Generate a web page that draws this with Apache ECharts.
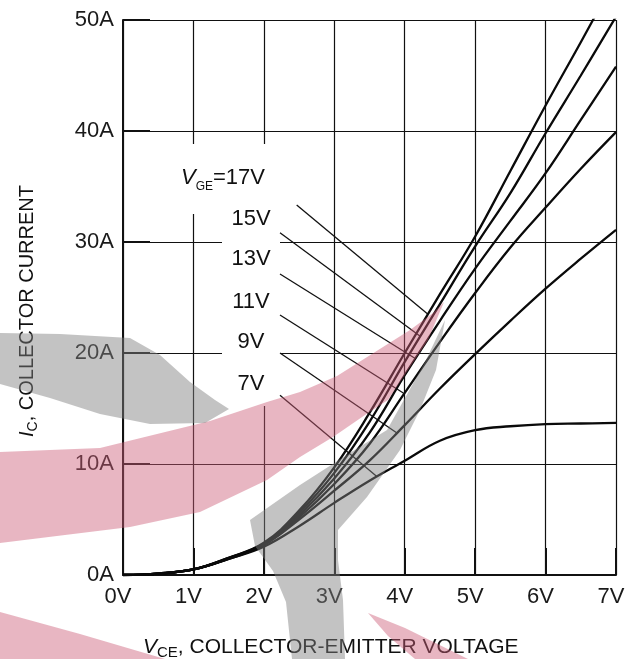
<!DOCTYPE html>
<html>
<head>
<meta charset="utf-8">
<script src="https://cdn.jsdelivr.net/npm/echarts@6/dist/echarts.min.js"></script>
<style>
  html, body { margin: 0; padding: 0; background: #ffffff; }
  #chart { width: 632px; height: 659px; }
</style>
</head>
<body>
<div id="chart"></div>
<script>
// Collector-emitter voltage sample points (V)
const vceSteps = [0, 0.5, 1, 1.5, 2, 2.5, 3, 3.5, 4, 4.5, 5, 5.5, 6, 6.5, 7];

// Collector current (A) for each gate-emitter voltage
const ic17V = [0, 0.13, 0.5, 1.55, 2.9, 5.8, 9.7, 14.6, 20.0, 25.3, 30.5, 36.4, 42.3, 48.0, 53.8];
const ic15V = [0, 0.13, 0.5, 1.55, 2.85, 5.6, 9.2, 13.8, 19.2, 24.4, 29.6, 34.4, 39.8, 45.0, 50.3];
const ic13V = [0, 0.13, 0.5, 1.5, 2.8, 5.4, 8.7, 12.8, 18.0, 22.9, 27.6, 31.9, 36.2, 41.0, 45.8];
const ic11V = [0, 0.13, 0.5, 1.5, 2.75, 5.2, 8.2, 11.8, 16.4, 21.0, 25.4, 29.5, 33.1, 36.6, 39.9];
const ic9V  = [0, 0.13, 0.5, 1.45, 2.7, 5.0, 7.6, 10.3, 13.5, 16.8, 19.9, 22.9, 25.8, 28.5, 31.1];
const ic7V  = [0, 0.13, 0.5, 1.45, 2.55, 4.4, 6.5, 8.5, 10.3, 12.1, 13.05, 13.4, 13.6, 13.65, 13.7];

// Curve labels and where their leader lines start/end (V, A)
const gateLabels = ['17V', '15V', '13V', '11V', '9V', '7V'];
const leaderStart = [[2.466, 33.33], [2.229, 30.84], [2.229, 27.12], [2.229, 23.42], [2.229, 20.0], [2.229, 16.2]];
const leaderEnd   = [[4.33, 23.5], [4.22, 21.5], [4.15, 19.5], [3.98, 16.4], [3.89, 12.8], [3.6, 8.9]];

// Axis ticks
const vceTicks = [0, 1, 2, 3, 4, 5, 6, 7];
const icTicks = [0, 10, 20, 30, 40, 50];

const FONT = '"Liberation Sans", Arial, Helvetica, sans-serif';
const INK = '#111111';

const curves = [ic17V, ic15V, ic13V, ic11V, ic9V, ic7V];

const series = [];
leaderStart.forEach((p, i) => {
  series.push({
    type: 'line',
    name: 'leader ' + gateLabels[i],
    data: [p, leaderEnd[i]],
    symbol: 'none',
    z: 3,
    lineStyle: { color: INK, width: 1.3 },
    silent: true
  });
});
curves.forEach((arr, i) => {
  series.push({
    type: 'line',
    name: 'VGE=' + gateLabels[i],
    data: vceSteps.map((v, k) => [v, arr[k]]),
    symbol: 'none',
    smooth: 0.4,
    clip: true,
    z: 4,
    lineStyle: { color: '#0a0a0a', width: 2.3 },
    silent: true
  });
});

// caption placement (pixels)
const labelX = 251;
const labelY = [219, 259, 301.7, 341.7, 384];
const graphics = [
  // white patches behind the captions (interrupt the grid)
  { type: 'rect', z: 1, shape: { x: 175, y: 144, width: 122, height: 70 }, style: { fill: '#ffffff' } },
  { type: 'rect', z: 1, shape: { x: 222, y: 212, width: 58, height: 194 }, style: { fill: '#ffffff' } },
  {
    type: 'text', z: 5, x: 181, y: 178,
    style: {
      text: '{i|V}{s|GE}{n|=17V}',
      verticalAlign: 'middle',
      rich: {
        i: { fontFamily: FONT, fontSize: 22, fontStyle: 'italic', fill: INK, lineHeight: 30 },
        s: { fontFamily: FONT, fontSize: 12, fill: INK, lineHeight: 12, verticalAlign: 'bottom' },
        n: { fontFamily: FONT, fontSize: 22, fill: INK, lineHeight: 30 }
      }
    }
  }
];
gateLabels.slice(1).forEach((t, i) => {
  graphics.push({
    type: 'text', z: 5, x: labelX, y: labelY[i],
    style: { text: t, font: '22px ' + FONT, fill: INK, align: 'center', verticalAlign: 'middle' }
  });
});
// axis titles
graphics.push({
  type: 'text', z: 5, x: 143, y: 647,
  style: {
    text: '{i|V}{s|CE}{n|, COLLECTOR-EMITTER VOLTAGE}',
    verticalAlign: 'middle',
    rich: {
      i: { fontFamily: FONT, fontSize: 21, fontStyle: 'italic', fill: INK, lineHeight: 26 },
      s: { fontFamily: FONT, fontSize: 15, fill: INK, lineHeight: 15, verticalAlign: 'bottom' },
      n: { fontFamily: FONT, fontSize: 21, fill: INK, lineHeight: 26 }
    }
  }
});
graphics.push({
  type: 'text', z: 5, x: 27, y: 311, rotation: Math.PI / 2,
  style: {
    text: '{i|I}{s|C}{n|, COLLECTOR CURRENT}',
    align: 'center', verticalAlign: 'middle',
    rich: {
      i: { fontFamily: FONT, fontSize: 20, fontStyle: 'italic', fill: INK, lineHeight: 26 },
      s: { fontFamily: FONT, fontSize: 14, fill: INK, lineHeight: 14, verticalAlign: 'bottom' },
      n: { fontFamily: FONT, fontSize: 20, fill: INK, lineHeight: 26 }
    }
  }
});

// translucent logo swooshes in the background artwork
const pink = 'rgba(204, 93, 120, 0.45)';
const grey = 'rgba(128, 128, 128, 0.47)';
graphics.push(
  { type: 'polygon', z: 100, silent: true, style: { fill: pink },
    shape: { points: [
      [0, 452], [100, 448], [210, 421], [267, 402], [300, 392], [337, 376], [383, 347], [410, 330], [433, 313], [444, 302],
      [428, 340], [410, 367], [388, 400], [365, 415], [333, 437], [300, 457], [267, 480], [200, 512], [130, 527], [0, 543]
    ] } },
  { type: 'polygon', z: 100, silent: true, style: { fill: pink },
    shape: { points: [[0, 612], [80, 634], [165, 659], [0, 659]] } },
  { type: 'polygon', z: 100, silent: true, style: { fill: pink },
    shape: { points: [[368, 613], [405, 628], [468, 659], [415, 659], [388, 636]] } },
  { type: 'polygon', z: 100, silent: true, style: { fill: grey },
    shape: { points: [
      [0, 333], [60, 334], [130, 338], [160, 355], [190, 382], [215, 400], [229, 409],
      [205, 423], [150, 424], [100, 414], [50, 398], [0, 384]
    ] } },
  { type: 'polygon', z: 100, silent: true, style: { fill: grey },
    shape: { points: [
      [445, 320], [425, 362], [405, 398], [387, 430], [353, 451], [300, 485], [250, 520],
      [255, 546], [273, 571], [286, 602], [292, 659], [345, 659], [343, 600], [338, 560],
      [338, 530], [367, 497], [400, 450], [420, 410], [436, 370]
    ] } }
);

const chart = echarts.init(document.getElementById('chart'), null, { renderer: 'canvas' });
chart.setOption({
  animation: false,
  backgroundColor: '#ffffff',
  grid: { left: 123, right: 16, top: 20, bottom: 84, containLabel: false },
  xAxis: {
    type: 'value',
    min: vceTicks[0], max: vceTicks[vceTicks.length - 1], interval: 1,
    axisLine: { show: true, lineStyle: { color: INK, width: 2 } },
    axisTick: { show: true, inside: true, length: 27, lineStyle: { color: INK, width: 2 } },
    splitLine: { show: true, lineStyle: { color: INK, width: 1.2 } },
    axisLabel: { formatter: v => v + 'V', fontFamily: FONT, fontSize: 22, color: '#1a1a1a', margin: 11, padding: [0, 10, 0, 0] }
  },
  yAxis: {
    type: 'value',
    min: icTicks[0], max: icTicks[icTicks.length - 1], interval: 10,
    axisLine: { show: true, lineStyle: { color: INK, width: 2 } },
    axisTick: { show: true, inside: true, length: 27, lineStyle: { color: INK, width: 2 } },
    splitLine: { show: true, lineStyle: { color: INK, width: 1.2 } },
    axisLabel: { formatter: v => v + 'A', fontFamily: FONT, fontSize: 22, color: '#1a1a1a', margin: 9 }
  },
  graphic: graphics,
  series: series
});
</script>
</body>
</html>
